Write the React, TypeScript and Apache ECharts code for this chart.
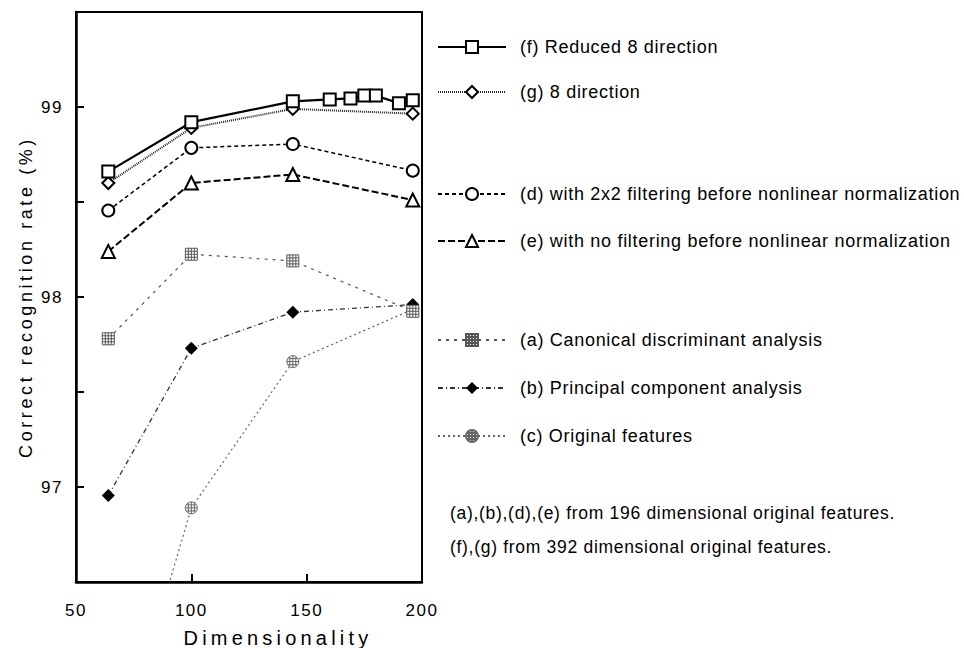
import React, { useEffect, useRef } from "react";
import * as echarts from "echarts";

const xMain = [64, 100, 144, 196];
const xReduced = [64, 100, 144, 160, 169, 175, 180, 190, 196];

const fVals = [98.66, 98.92, 99.03, 99.04, 99.045, 99.06, 99.06, 99.02, 99.035];
const gVals = [98.6, 98.89, 98.99, 98.965];
const dVals = [98.455, 98.785, 98.805, 98.665];
const eVals = [98.24, 98.6, 98.645, 98.51];
const aVals = [97.78, 98.225, 98.19, 97.925];
const bVals = [96.955, 97.73, 97.92, 97.96];
const cVals = [95.4, 96.89, 97.66, 97.935];

const names = {
  f: "(f) Reduced 8 direction",
  g: "(g) 8 direction",
  d: "(d) with 2x2 filtering before nonlinear normalization",
  e: "(e) with no filtering before nonlinear normalization",
  a: "(a) Canonical discriminant analysis",
  b: "(b) Principal component analysis",
  c: "(c) Original features",
};

const xTitle = "Dimensionality";
const yTitle = "Correct recognition rate (%)";

const notes = [
  "(a),(b),(d),(e) from 196 dimensional original features.",
  "(f),(g) from 392 dimensional original features.",
];

const HATCH_SQUARE =
  "path://M0,0H12V12H0Z M0,3H12 M0,6H12 M0,9H12 M3,0V12 M6,0V12 M9,0V12";
const HATCH_CIRCLE =
  "path://M6,0A6,6,0,1,1,6,12A6,6,0,1,1,6,0Z M0,6H12 M6,0V12 M1.5,3H10.5 M1.5,9H10.5 M3,1.5V10.5 M9,1.5V10.5";

const pairs = (xs: number[], ys: number[]) => xs.map((x, i) => [x, ys[i]]);

const F_BASE = "Liberation Sans";
const F_YNAME = "Liberation Sans, Helvetica";
const F_XNAME = "Liberation Sans, Arial";
const F_TICK = "Liberation Sans, Arimo";

export default function App() {
  const ref = useRef<HTMLDivElement>(null);
  useEffect(() => {
    if (!ref.current) return;
    const chart = echarts.init(ref.current, null, { renderer: "svg" });
    const legendBase = {
      orient: "vertical",
      left: 432,
      itemWidth: 68,
      itemHeight: 15,
      selectedMode: false,
      textStyle: { fontFamily: F_BASE, fontSize: 18, color: "#000", padding: [0, 0, 0, 9] },
    };
    chart.setOption({
      animation: false,
      backgroundColor: "#fff",
      grid: {
        left: 76,
        top: 12,
        width: 346,
        height: 570,
        show: true,
        borderColor: "#000",
        borderWidth: 2,
      },
      xAxis: {
        type: "value",
        min: 50,
        max: 200,
        interval: 50,
        axisLine: { show: true, lineStyle: { color: "#000", width: 2.5 } },
        axisTick: { show: true, inside: true, length: 8, lineStyle: { color: "#000", width: 2 } },
        axisLabel: { fontFamily: F_TICK, fontSize: 17, color: "#000", margin: 20 },
        splitLine: { show: false },
      },
      yAxis: {
        type: "value",
        min: 96.5,
        max: 99.5,
        interval: 0.5,
        name: yTitle,
        nameLocation: "middle",
        nameRotate: 90,
        nameGap: 41,
        nameTextStyle: { fontFamily: F_YNAME, fontSize: 18, color: "#000" },
        axisLine: { show: true, lineStyle: { color: "#000", width: 2.5 } },
        axisTick: { show: true, inside: true, length: 8, lineStyle: { color: "#000", width: 2 } },
        axisLabel: {
          fontFamily: F_TICK,
          fontSize: 17,
          color: "#000",
          margin: 13,
          formatter: (v: number) => (Math.abs(v - Math.round(v)) < 1e-6 ? String(Math.round(v)) : ""),
        },
        splitLine: { show: false },
      },
      legend: [
        { ...legendBase, top: 33, itemGap: 27, data: [names.f, names.g] },
        { ...legendBase, top: 180, itemGap: 29, data: [names.d, names.e] },
        { ...legendBase, top: 326, itemGap: 30, data: [names.a, names.b, names.c] },
      ],
      graphic: [
        {
          type: "text",
          x: 278,
          y: 638,
          style: {
            text: xTitle,
            fontFamily: F_XNAME,
            fontSize: 20,
            fill: "#000",
            textAlign: "center",
            textVerticalAlign: "middle",
          },
        },
        ...notes.map((t, i) => ({
          type: "text",
          x: 450,
          y: i === 0 ? 513 : 547,
          style: {
            text: t,
            fontFamily: F_BASE,
            fontSize: 17.5,
            fill: "#000",
            textVerticalAlign: "middle",
          },
        })),
      ],
      series: [
        {
          name: names.c,
          type: "line",
          data: pairs(xMain, cVals),
          symbol: HATCH_CIRCLE,
          symbolSize: 12,
          itemStyle: { color: "#fff", borderColor: "#666", borderWidth: 1 },
          lineStyle: { color: "#666", width: 1.2, type: [2, 3] },
          z: 1,
        },
        {
          name: names.b,
          type: "line",
          data: pairs(xMain, bVals),
          symbol: "diamond",
          symbolSize: 13,
          itemStyle: { color: "#000" },
          lineStyle: { color: "#333", width: 1.3, type: [5, 3, 1, 3] },
          z: 2,
        },
        {
          name: names.a,
          type: "line",
          data: pairs(xMain, aVals),
          symbol: HATCH_SQUARE,
          symbolSize: 12,
          itemStyle: { color: "#fff", borderColor: "#555", borderWidth: 1 },
          lineStyle: { color: "#555", width: 1.2, type: [3, 5] },
          z: 3,
        },
        {
          name: names.e,
          type: "line",
          data: pairs(xMain, eVals),
          symbol: "emptyTriangle",
          symbolSize: 13,
          itemStyle: { color: "#000", borderWidth: 2.5 },
          lineStyle: { color: "#000", width: 2, type: [7, 3] },
          z: 4,
        },
        {
          name: names.d,
          type: "line",
          data: pairs(xMain, dVals),
          symbol: "emptyCircle",
          symbolSize: 12,
          itemStyle: { color: "#000", borderWidth: 1.2 },
          lineStyle: { color: "#000", width: 1.5, type: [4, 3] },
          z: 5,
        },
        {
          name: names.g,
          type: "line",
          data: pairs(xMain, gVals),
          symbol: "emptyDiamond",
          symbolSize: 12,
          itemStyle: { color: "#000", borderWidth: 2.5 },
          lineStyle: { color: "#222", width: 2, type: [1, 1] },
          z: 6,
        },
        {
          name: names.f,
          type: "line",
          data: pairs(xReduced, fVals),
          symbol: "emptyRect",
          symbolSize: 12,
          itemStyle: { color: "#000", borderWidth: 2 },
          lineStyle: { color: "#000", width: 2.2 },
          z: 7,
        },
      ],
    });
    return () => chart.dispose();
  }, []);

  const css = `
    #chartbox text[style*="Liberation"] { letter-spacing: 0.7px; }
    #chartbox text[style*="Arimo"] { letter-spacing: 1.5px; }
    #chartbox text[style*="Helvetica"] { letter-spacing: 3.6px; }
    #chartbox text[style*="Arial"] { letter-spacing: 4.2px; }
  `;

  return (
    <>
      <style>{css}</style>
      <div
        id="chartbox"
        ref={ref}
        style={{ position: "fixed", left: 0, top: 0, width: 964, height: 648, background: "#fff" }}
      />
    </>
  );
}
